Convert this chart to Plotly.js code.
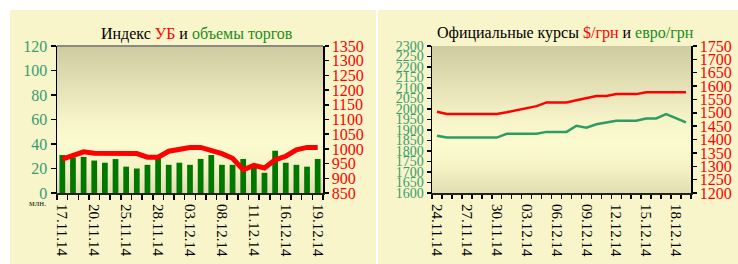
<!DOCTYPE html>
<html>
<head>
<meta charset="utf-8">
<script src="https://cdn.plot.ly/plotly-3.0.1.min.js"></script>
<style>
html,body{margin:0;padding:0;background:#ffffff;}
#wrap{position:relative;width:738px;height:264px;overflow:hidden;background:#fff;}
.panel{position:absolute;background:#f7f5c9;}
.grad{position:absolute;background:linear-gradient(to bottom,#cfcba0 0%,#e2dfb4 25%,#f5f3c7 50%,#fcfbd0 65%,#f3f1c4 85%,#e0ddb0 100%);}
#chart{position:absolute;left:0;top:0;width:738px;height:264px;}
</style>
</head>
<body>
<div id="wrap">
  <div class="panel" style="left:10px;top:10px;width:366px;height:254px;"></div>
  <div class="panel" style="left:378px;top:10px;width:360px;height:254px;"></div>
  <div class="grad" style="left:57px;top:46px;width:266px;height:147px;"></div>
  <div class="grad" style="left:432px;top:46px;width:259px;height:147px;"></div>
  <div id="chart"></div>
</div>
<script>
// ---- Left chart data ----
const dates1 = ['17.11.14','18.11.14','19.11.14','20.11.14','21.11.14','24.11.14','25.11.14','26.11.14','27.11.14','28.11.14','01.12.14','02.12.14','03.12.14','04.12.14','05.12.14','08.12.14','09.12.14','10.12.14','11.12.14','12.12.14','15.12.14','16.12.14','17.12.14','18.12.14','19.12.14'];
const labels1 = ['17.11.14','','','20.11.14','','','25.11.14','','','28.11.14','','','03.12.14','','','08.12.14','','','11.12.14','','','16.12.14','','','19.12.14'];
const volumes = [31, 29, 29.5, 26.5, 24.7, 27.7, 21.5, 20, 23, 31, 23, 24.7, 23, 27.8, 31, 23, 23, 27.8, 21, 16.5, 34.5, 24.7, 23, 21.5, 27.8];
const ubIndex = [965, 977, 990, 985, 984, 984, 984, 984, 972, 972, 992, 998, 1005, 1005, 995, 984, 968, 929, 944, 935, 963, 975, 997, 1005, 1005];

// ---- Right chart data ----
const dates2 = ['24.11.14','25.11.14','26.11.14','27.11.14','28.11.14','29.11.14','30.11.14','01.12.14','02.12.14','03.12.14','04.12.14','05.12.14','06.12.14','07.12.14','08.12.14','09.12.14','10.12.14','11.12.14','12.12.14','13.12.14','14.12.14','15.12.14','16.12.14','17.12.14','18.12.14','19.12.14'];
const labels2 = ['24.11.14','','','27.11.14','','','30.11.14','','','03.12.14','','','06.12.14','','','09.12.14','','','12.12.14','','','15.12.14','','','18.12.14',''];
const usdRate = [1504, 1496, 1496, 1496, 1496, 1496, 1496, 1502, 1509, 1516, 1525, 1539, 1539, 1539, 1547, 1555, 1563, 1563, 1570, 1570, 1570, 1577, 1577, 1577, 1577, 1577];
const eurRate = [1873, 1864, 1864, 1864, 1864, 1864, 1864, 1882, 1882, 1882, 1882, 1891, 1891, 1891, 1920, 1911, 1927, 1936, 1944, 1944, 1944, 1955, 1955, 1976, 1956, 1936];

const W = 738, H = 264;
const FONT = '"Liberation Serif", "Times New Roman", serif';
const tealGreen = '#3a9c70';
const lineGreen = '#2e9c62';
const yDom = [(H-193)/H, (H-46)/H];
const x1Dom = [57/W, 323/W];
const x2Dom = [432/W, 691/W];

const traces = [
  {type:'bar', x:dates1, y:volumes, xaxis:'x', yaxis:'y', marker:{color:'#007800'}, hoverinfo:'none'},
  {type:'scatter', mode:'lines', x:dates1, y:ubIndex, xaxis:'x', yaxis:'y2', line:{color:'#ff0000', width:5}, hoverinfo:'none'},
  {type:'scatter', mode:'lines', x:dates2, y:eurRate, xaxis:'x2', yaxis:'y4', line:{color:lineGreen, width:2.5}, hoverinfo:'none'},
  {type:'scatter', mode:'lines', x:dates2, y:usdRate, xaxis:'x2', yaxis:'y5', line:{color:'#ff0000', width:2.5}, hoverinfo:'none'}
];

const boundaryTicks = n => Array.from({length:n+1}, (_, i) => i - 0.5);

const baseAx = {showgrid:false, zeroline:false, fixedrange:true};
const layout = {
  width:W, height:H,
  margin:{l:0,r:0,t:0,b:0},
  paper_bgcolor:'rgba(0,0,0,0)',
  plot_bgcolor:'rgba(0,0,0,0)',
  showlegend:false,
  bargap:0.46,
  font:{family:FONT},
  xaxis:Object.assign({}, baseAx, {domain:x1Dom, anchor:'y', type:'category', range:[-0.5, dates1.length-0.5],
    tickmode:'array', tickvals:dates1, ticktext:labels1, tickson:'boundaries', ticks:'outside', ticklen:5, tickwidth:1.5, tickcolor:'#000',
    showline:true, linecolor:'#222', linewidth:2, tickangle:90, ticklabelstandoff:6, tickfont:{family:FONT, size:15, color:'#000'}}),
  yaxis:Object.assign({}, baseAx, {domain:yDom, anchor:'x', range:[0,120], dtick:20, ticks:'outside', ticklen:5, tickwidth:1.5, tickcolor:'#000',
    showline:true, linecolor:'#000', linewidth:1.5, tickfont:{family:FONT, size:16, color:tealGreen}}),
  yaxis2:Object.assign({}, baseAx, {overlaying:'y', side:'right', anchor:'x', range:[850,1350], dtick:50, ticks:'outside', ticklen:4, tickwidth:1.5, tickcolor:'#000',
    showline:true, linecolor:'#000', linewidth:1.5, tickfont:{family:FONT, size:16, color:'#ff0000'}}),
  yaxis3:Object.assign({}, baseAx, {overlaying:'y', side:'right', anchor:'x', range:[850,1350], dtick:50, ticks:'inside', ticklen:4, tickwidth:1.5, tickcolor:'#000',
    showticklabels:false, showline:false}),
  xaxis2:Object.assign({}, baseAx, {domain:x2Dom, anchor:'y4', type:'category', range:[-0.5, dates2.length-0.5],
    tickmode:'array', tickvals:dates2, ticktext:labels2, tickson:'boundaries', ticks:'outside', ticklen:4, tickwidth:1.5, tickcolor:'#000',
    showline:true, linecolor:'#222', linewidth:2, tickangle:90, ticklabelstandoff:6, tickfont:{family:FONT, size:15, color:'#000'}}),
  xaxis3:Object.assign({}, baseAx, {overlaying:'x2', anchor:'y4', type:'linear', range:[-0.5, dates2.length-0.5],
    tickmode:'array', tickvals:boundaryTicks(dates2.length), ticks:'inside', ticklen:4, tickwidth:1.5, tickcolor:'#000',
    showticklabels:false, showline:false}),
  yaxis4:Object.assign({}, baseAx, {domain:yDom, anchor:'x2', range:[1600,2300], dtick:50, ticks:'outside', ticklen:4, tickwidth:1.5, tickcolor:'#000',
    showline:true, linecolor:'#000', linewidth:1.5, tickfont:{family:FONT, size:14, color:tealGreen}}),
  yaxis6:Object.assign({}, baseAx, {overlaying:'y4', anchor:'x2', range:[1600,2300], dtick:50, ticks:'inside', ticklen:4, tickwidth:1.5, tickcolor:'#000',
    showticklabels:false, showline:false}),
  yaxis5:Object.assign({}, baseAx, {overlaying:'y4', side:'right', anchor:'x2', range:[1200,1750], dtick:50, ticks:'outside', ticklen:4, tickwidth:1.5, tickcolor:'#000',
    showline:true, linecolor:'#000', linewidth:1.5, tickfont:{family:FONT, size:16, color:'#ff0000'}}),
  yaxis7:Object.assign({}, baseAx, {overlaying:'y4', side:'right', anchor:'x2', range:[1200,1750], dtick:50, ticks:'inside', ticklen:4, tickwidth:1.5, tickcolor:'#000',
    showticklabels:false, showline:false}),
  shapes:[
    {type:'line', xref:'paper', yref:'paper', x0:x1Dom[0], x1:x1Dom[1], y0:yDom[1], y1:yDom[1], line:{color:'#8a8a80', width:2}}
  ],
  annotations:[
    {xref:'paper', yref:'paper', x:197/W, y:(H-34)/H, xanchor:'center', yanchor:'middle', showarrow:false,
      text:'Индекс <span style="color:#ff0000">УБ</span> и <span style="color:#1e8c1e">объемы торгов</span>',
      font:{family:FONT, size:16, color:'#000'}},
    {xref:'paper', yref:'paper', x:565/W, y:(H-33)/H, xanchor:'center', yanchor:'middle', showarrow:false,
      text:'Официальные курсы <span style="color:#ff0000">$/грн</span> и <span style="color:#1e8c1e">евро/грн</span>',
      font:{family:FONT, size:16, color:'#000'}},
    {xref:'paper', yref:'paper', x:37/W, y:(H-203)/H, xanchor:'center', yanchor:'middle', showarrow:false,
      text:'млн.', font:{family:FONT, size:9, color:'#222'}}
  ]
};

Plotly.newPlot('chart', traces, layout, {staticPlot:true, displayModeBar:false});
</script>
</body>
</html>
